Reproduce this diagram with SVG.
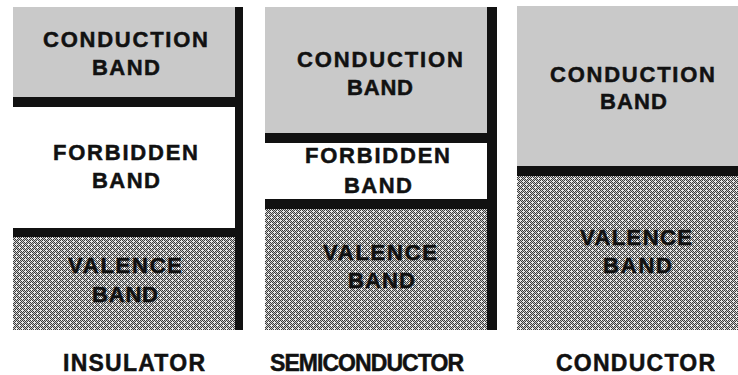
<svg xmlns="http://www.w3.org/2000/svg" width="738" height="375" viewBox="0 0 738 375">
<defs>
<pattern id="check" width="2" height="2" patternUnits="userSpaceOnUse">
<rect width="2" height="2" fill="#c8c8c8"/>
<rect x="0" y="0" width="1" height="1" fill="#3c3c3c"/>
<rect x="1" y="1" width="1" height="1" fill="#3c3c3c"/>
</pattern>
<pattern id="spark" width="6" height="6" patternUnits="userSpaceOnUse">
<path d="M1 0h1v3H1zM0 1h3v1H0zM4 3h1v3H4zM3 4h3v1H3z" fill="#ffffff" opacity="0.8"/>
</pattern>
<style>
.cond{fill:#c9c9c9}
.bar{fill:#111111}
.lbl{font-family:"Liberation Sans",Arial,sans-serif;font-weight:bold;font-size:22px;fill:#111111;stroke:#111111;stroke-width:0.5}
.cap{font-family:"Liberation Sans",Arial,sans-serif;font-weight:bold;font-size:23px;fill:#111111;stroke:#111111;stroke-width:0.5}
</style>
</defs>
<rect width="738" height="375" fill="#ffffff"/>

<g id="insulator">
<g id="ins-conduction">
<rect class="cond" x="13" y="7" width="222" height="90"/>
<text class="lbl" x="43" y="47" textLength="165" lengthAdjust="spacing">CONDUCTION</text>
<text class="lbl" x="92" y="75" textLength="68" lengthAdjust="spacing">BAND</text>
</g>
<g id="ins-forbidden">
<text class="lbl" x="53" y="160" textLength="145" lengthAdjust="spacing">FORBIDDEN</text>
<text class="lbl" x="92" y="188" textLength="68" lengthAdjust="spacing">BAND</text>
</g>
<g id="ins-valence">
<rect fill="url(#check)" x="13" y="237" width="222" height="93"/>
<rect fill="url(#spark)" x="13" y="237" width="222" height="93"/>
<text class="lbl" x="68" y="273" textLength="114" lengthAdjust="spacing">VALENCE</text>
<text class="lbl" x="92" y="302" textLength="66" lengthAdjust="spacing">BAND</text>
</g>
<rect class="bar" x="13" y="97" width="230" height="10"/>
<rect class="bar" x="13" y="228" width="230" height="9"/>
<rect class="bar" x="235" y="7" width="8" height="323"/>
<text class="cap" x="63" y="371" textLength="142" lengthAdjust="spacing">INSULATOR</text>
</g>

<g id="semiconductor">
<g id="semi-conduction">
<rect class="cond" x="265" y="7" width="222" height="126"/>
<text class="lbl" x="297" y="67" textLength="166" lengthAdjust="spacing">CONDUCTION</text>
<text class="lbl" x="347" y="95" textLength="66" lengthAdjust="spacing">BAND</text>
</g>
<g id="semi-forbidden">
<text class="lbl" x="305" y="163" textLength="145" lengthAdjust="spacing">FORBIDDEN</text>
<text class="lbl" x="344" y="193" textLength="68" lengthAdjust="spacing">BAND</text>
</g>
<g id="semi-valence">
<rect fill="url(#check)" x="265" y="209" width="222" height="121"/>
<rect fill="url(#spark)" x="265" y="209" width="222" height="121"/>
<text class="lbl" x="323" y="260" textLength="114" lengthAdjust="spacing">VALENCE</text>
<text class="lbl" x="348" y="288" textLength="67" lengthAdjust="spacing">BAND</text>
</g>
<rect class="bar" x="265" y="133" width="232" height="10"/>
<rect class="bar" x="265" y="199" width="232" height="10"/>
<rect class="bar" x="487" y="7" width="10" height="323"/>
<text class="cap" x="270" y="371" textLength="194" lengthAdjust="spacing">SEMICONDUCTOR</text>
</g>

<g id="conductor">
<g id="cond-conduction">
<rect class="cond" x="517" y="6" width="221" height="160"/>
<text class="lbl" x="550" y="82" textLength="165" lengthAdjust="spacing">CONDUCTION</text>
<text class="lbl" x="600" y="109" textLength="67" lengthAdjust="spacing">BAND</text>
</g>
<g id="cond-valence">
<rect fill="url(#check)" x="517" y="176" width="221" height="154"/>
<rect fill="url(#spark)" x="517" y="176" width="221" height="154"/>
<text class="lbl" x="580" y="245" textLength="112" lengthAdjust="spacing">VALENCE</text>
<text class="lbl" x="603" y="273" textLength="69" lengthAdjust="spacing">BAND</text>
</g>
<rect class="bar" x="517" y="166" width="221" height="10"/>
<text class="cap" x="556" y="371" textLength="159" lengthAdjust="spacing">CONDUCTOR</text>
</g>
</svg>
